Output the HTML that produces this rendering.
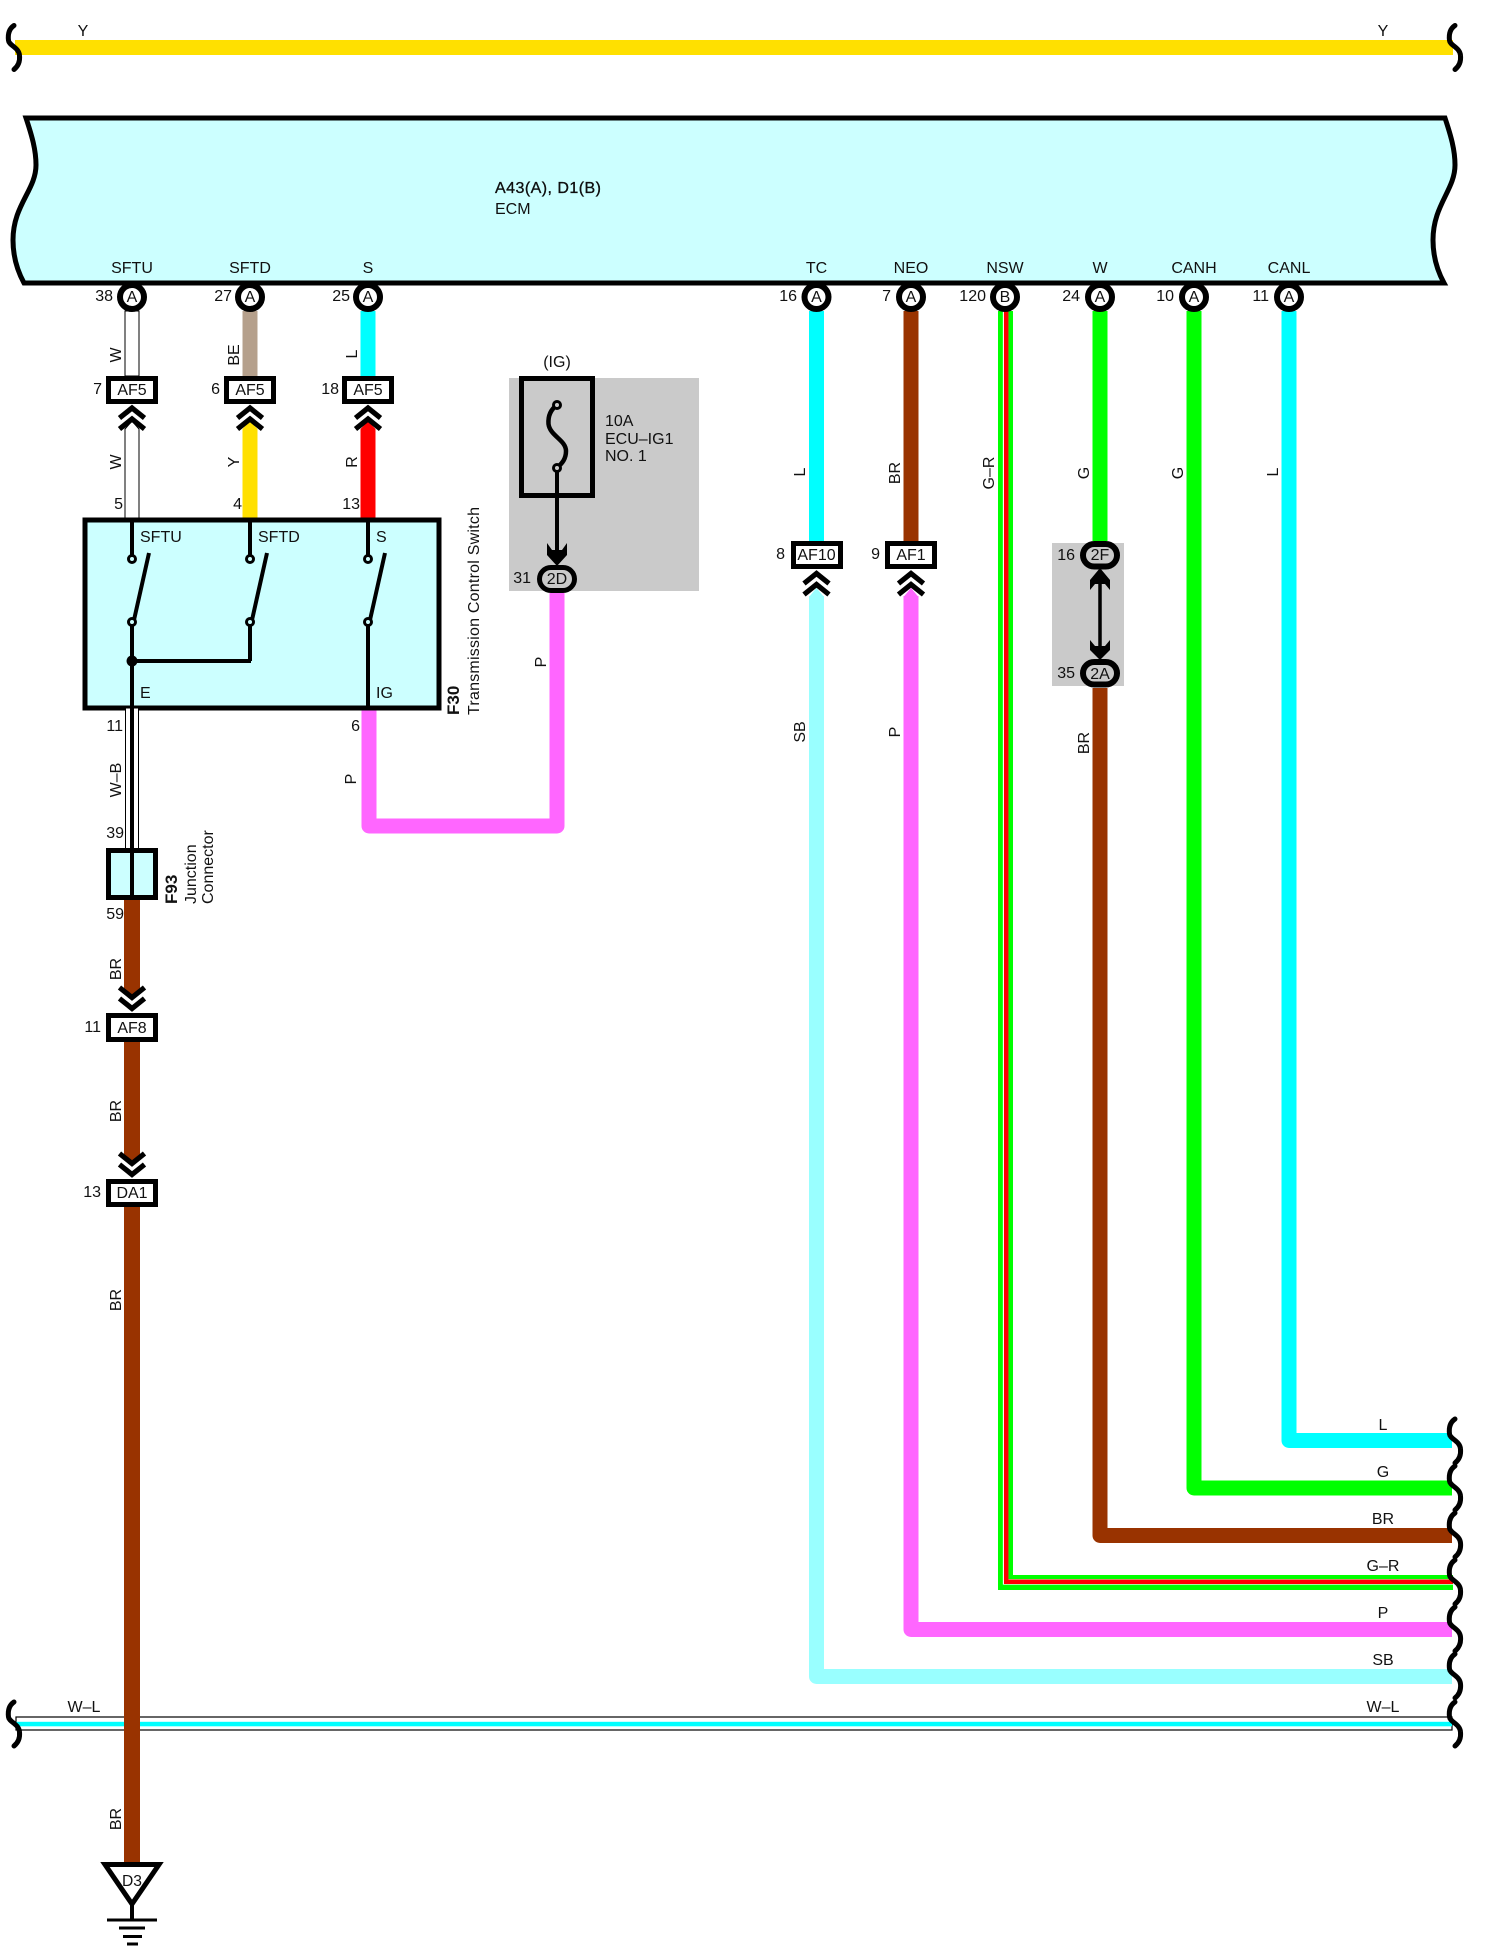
<!DOCTYPE html>
<html><head><meta charset="utf-8">
<style>
html,body{margin:0;padding:0;background:#fff}
svg{display:block}
text{font-family:"Liberation Sans",sans-serif;font-size:16px;fill:#111}
.m{text-anchor:middle}
.e{text-anchor:end}
.w{fill:none;stroke-linejoin:round}
</style></head><body>
<svg width="1500" height="1959" viewBox="0 0 1500 1959" xmlns="http://www.w3.org/2000/svg">
<defs>
<path id="sq" d="M0 -22C-6 -18 -6 -11 -5.5 -7C-5 -2 5 0 5.5 8C6 13 5 18 0 22" fill="none" stroke="#000" stroke-width="5" stroke-linecap="round"/>
<g id="cu"><polyline points="-12.500,10 0,0 12.500,10" fill="none" stroke="#000" stroke-width="5.200"/><polyline points="-12.500,21 0,11 12.500,21" fill="none" stroke="#000" stroke-width="5.200"/></g>
<g id="cd"><polyline points="-12.500,-10 0,0 12.500,-10" fill="none" stroke="#000" stroke-width="5.200"/><polyline points="-12.500,-21 0,-11 12.500,-21" fill="none" stroke="#000" stroke-width="5.200"/></g>
</defs>

<!-- top Y wire -->
<line x1="15" y1="47.5" x2="1453" y2="47.5" stroke="#ffe000" stroke-width="15"/>
<use href="#sq" x="14" y="47.5"/><use href="#sq" x="1455" y="47.5"/>
<text class="m" x="83" y="36">Y</text><text class="m" x="1383" y="36">Y</text>

<!-- ECM -->
<path d="M26 118C32 136 36 150 36 165C36 190 13 205 13 240C13 258 18 272 24 283L1444 283C1438 272 1433 258 1433 240C1433 205 1455 190 1455 165C1455 150 1451 136 1445 118Z" fill="#ccffff" stroke="#000" stroke-width="5" stroke-linejoin="miter"/>
<text x="495" y="193" stroke="#000" stroke-width=".3" textLength="106">A43(A), D1(B)</text>
<text x="495" y="214">ECM</text>
<text class="m" x="132" y="273">SFTU</text><text class="m" x="250" y="273">SFTD</text><text class="m" x="368" y="273">S</text>
<text class="m" x="816.500" y="273">TC</text><text class="m" x="911" y="273">NEO</text><text class="m" x="1005" y="273">NSW</text><text class="m" x="1100" y="273">W</text><text class="m" x="1194" y="273">CANH</text><text class="m" x="1289" y="273">CANL</text>

<!-- grey areas -->
<rect x="509" y="378" width="190" height="213" fill="#cacaca"/>
<rect x="1052" y="543" width="72" height="143" fill="#cacaca"/>

<!-- wires: left group upper -->
<rect x="125" y="311" width="14" height="65" fill="#fff" stroke="#000" stroke-width="1"/>
<line x1="250" y1="311" x2="250" y2="376" stroke="#b5a08c" stroke-width="15"/>
<line x1="368" y1="311" x2="368" y2="376" stroke="#00ffff" stroke-width="15"/>
<path d="M125 429L132 421L139 429V520H125Z" fill="#fff" stroke="#000" stroke-width="1"/>
<path d="M242.500 429L250 421L257.500 429V520H242.500Z" fill="#ffe000"/>
<path d="M360.500 429L368 421L375.500 429V520H360.500Z" fill="#ff0000"/>

<!-- P wire loop -->
<path class="w" d="M369 708V826H557V593" stroke="#ff66ff" stroke-width="15"/>

<!-- switch box -->
<rect x="85" y="520" width="354" height="188" fill="#ccffff" stroke="#000" stroke-width="5"/>
<g fill="none" stroke="#000" stroke-width="4">
<line x1="132" y1="520" x2="132" y2="555"/><line x1="250" y1="520" x2="250" y2="555"/><line x1="368" y1="520" x2="368" y2="555"/>
<line x1="132" y1="626" x2="132" y2="708"/><line x1="250" y1="626" x2="250" y2="661"/><line x1="368" y1="626" x2="368" y2="708"/>
<line x1="132" y1="661" x2="251" y2="661"/>
<line x1="149" y1="553" x2="134" y2="620"/><line x1="267" y1="553" x2="252" y2="620"/><line x1="385" y1="553" x2="370" y2="620"/>
</g>
<g fill="#ccffff" stroke="#000" stroke-width="3">
<circle cx="132" cy="559" r="3.500"/><circle cx="250" cy="559" r="3.500"/><circle cx="368" cy="559" r="3.500"/>
<circle cx="132" cy="622" r="3.500"/><circle cx="250" cy="622" r="3.500"/><circle cx="368" cy="622" r="3.500"/>
</g>
<circle cx="132" cy="661" r="5.500" fill="#000"/>
<text x="140" y="542">SFTU</text><text x="258" y="542">SFTD</text><text x="376" y="542">S</text>
<text x="140" y="698">E</text><text x="376" y="698">IG</text>

<!-- W-B wire + F93 -->
<rect x="125.500" y="708" width="13" height="142" fill="#fff" stroke="#000" stroke-width="1"/>
<line x1="132" y1="708" x2="132" y2="850" stroke="#000" stroke-width="4"/>
<rect x="108.500" y="850.500" width="47" height="47" fill="#ccffff" stroke="#000" stroke-width="5"/>
<line x1="132" y1="850" x2="132" y2="898" stroke="#000" stroke-width="4"/>

<!-- brown main -->
<path d="M124 900H140V990L132 996L124 990Z" fill="#993300"/>
<path d="M124 1042H140V1156L132 1162L124 1156Z" fill="#993300"/>

<!-- W-L wire -->
<rect x="16" y="1717" width="1436" height="13" fill="#fff" stroke="#000" stroke-width="1.200"/>
<rect x="16" y="1721.800" width="1436" height="4.500" fill="#00ffff"/>
<rect x="124" y="1207" width="16" height="656" fill="#993300"/>
<use href="#sq" x="14" y="1724"/><use href="#sq" x="1455" y="1724"/>
<text class="m" x="84" y="1712">W–L</text><text class="m" x="1383" y="1712">W–L</text>

<!-- right group wires -->
<line x1="816.500" y1="311" x2="816.500" y2="541" stroke="#00ffff" stroke-width="15"/>
<line x1="911" y1="311" x2="911" y2="541" stroke="#993300" stroke-width="15"/>
<line x1="1100" y1="311" x2="1100" y2="541" stroke="#00ff00" stroke-width="15"/>
<path class="w" d="M816.500 596V1676.500H1452" stroke="#99ffff" stroke-width="15"/>
<path d="M809 597L816.500 588L824 597Z" fill="#99ffff"/>
<path class="w" d="M911 596V1629.500H1452" stroke="#ff66ff" stroke-width="15"/>
<path d="M903.500 597L911 588L918.500 597Z" fill="#ff66ff"/>
<path class="w" d="M1100 688V1535.500H1452" stroke="#993300" stroke-width="15"/>
<path class="w" d="M1194 311V1488H1452" stroke="#00ff00" stroke-width="15"/>
<path class="w" d="M1289 311V1440.500H1452" stroke="#00ffff" stroke-width="15"/>
<path d="M1005.500 311V1582.500H1453" fill="none" stroke="#00ff00" stroke-width="15" stroke-linejoin="miter"/>
<path d="M1005.600 311V1581.900H1453" fill="none" stroke="#fff" stroke-width="5.500" stroke-linejoin="miter"/>
<path d="M1006.200 311V1581.700H1453" fill="none" stroke="#ff0000" stroke-width="4.500" stroke-linejoin="miter"/>

<!-- right squiggles -->
<use href="#sq" x="1455" y="1441"/><use href="#sq" x="1455" y="1488"/><use href="#sq" x="1455" y="1535"/><use href="#sq" x="1455" y="1582"/><use href="#sq" x="1455" y="1629"/><use href="#sq" x="1455" y="1676"/>
<text class="m" x="1383" y="1430">L</text><text class="m" x="1383" y="1477">G</text><text class="m" x="1383" y="1524">BR</text><text class="m" x="1383" y="1571">G–R</text><text class="m" x="1383" y="1618">P</text><text class="m" x="1383" y="1665">SB</text>

<!-- pin circles -->
<g fill="#fff" stroke="#000" stroke-width="6">
<circle cx="132" cy="297" r="12"/><circle cx="250" cy="297" r="12"/><circle cx="368" cy="297" r="12"/>
<circle cx="816.500" cy="297" r="12"/><circle cx="911" cy="297" r="12"/><circle cx="1005" cy="297" r="12"/><circle cx="1100" cy="297" r="12"/><circle cx="1194" cy="297" r="12"/><circle cx="1289" cy="297" r="12"/>
</g>
<text class="m" x="132" y="302">A</text><text class="m" x="250" y="302">A</text><text class="m" x="368" y="302">A</text>
<text class="m" x="816.500" y="302">A</text><text class="m" x="911" y="302">A</text><text class="m" x="1005" y="302">B</text><text class="m" x="1100" y="302">A</text><text class="m" x="1194" y="302">A</text><text class="m" x="1289" y="302">A</text>
<text class="e" x="113" y="301">38</text><text class="e" x="232" y="301">27</text><text class="e" x="350" y="301">25</text>
<text class="e" x="797" y="301">16</text><text class="e" x="891" y="301">7</text><text class="e" x="986" y="301">120</text><text class="e" x="1080" y="301">24</text><text class="e" x="1174" y="301">10</text><text class="e" x="1269" y="301">11</text>

<!-- connectors -->
<g fill="#fff" stroke="#000" stroke-width="5">
<rect x="108.500" y="378.500" width="47" height="23"/><rect x="226.500" y="378.500" width="47" height="23"/><rect x="344.500" y="378.500" width="47" height="23"/>
<rect x="793.500" y="543.500" width="47" height="23"/><rect x="887.500" y="543.500" width="47" height="23"/>
<rect x="108.500" y="1015.500" width="47" height="24"/><rect x="108.500" y="1181.500" width="47" height="23"/>
</g>
<text class="m" x="132" y="395">AF5</text><text class="m" x="250" y="395">AF5</text><text class="m" x="368" y="395">AF5</text>
<text class="m" x="816.500" y="560">AF10</text><text class="m" x="911" y="560">AF1</text>
<text class="m" x="132" y="1033">AF8</text><text class="m" x="132" y="1198">DA1</text>
<use href="#cu" x="132" y="408"/><use href="#cu" x="250" y="408"/><use href="#cu" x="368" y="408"/>
<use href="#cu" x="816.500" y="573.500"/><use href="#cu" x="911" y="573.500"/>
<use href="#cd" x="132" y="1008.500"/><use href="#cd" x="132" y="1174.500"/>

<text class="e" x="102" y="394">7</text><text class="e" x="220" y="394">6</text><text class="e" x="339" y="394">18</text>
<text class="e" x="123" y="509">5</text><text class="e" x="242" y="509">4</text><text class="e" x="360" y="509">13</text>
<text class="e" x="123" y="731">11</text><text class="e" x="360" y="731">6</text><text class="e" x="124" y="838">39</text><text class="e" x="124" y="919">59</text>
<text class="e" x="101" y="1032">11</text><text class="e" x="101" y="1197">13</text>
<text class="e" x="785" y="559">8</text><text class="e" x="880" y="559">9</text>

<!-- fuse block -->
<text class="m" x="557" y="367">(IG)</text>
<rect x="521.500" y="378.500" width="71" height="117" fill="none" stroke="#000" stroke-width="5"/>
<path d="M557 405C550 410 548 417 548.500 424C550 436 566 440 566 451C566 460 561 464 557 468" fill="none" stroke="#000" stroke-width="4.500"/>
<circle cx="557" cy="405" r="3.500" fill="#cacaca" stroke="#000" stroke-width="3"/>
<circle cx="557" cy="468" r="3.500" fill="#cacaca" stroke="#000" stroke-width="3"/>
<line x1="557" y1="472" x2="557" y2="555" stroke="#000" stroke-width="4"/>
<polygon points="547,543 552,550 562,550 567,543 567,555 557,566 547,555" fill="#000"/>
<rect x="539.500" y="567.500" width="35" height="23" rx="11.500" fill="#cacaca" stroke="#000" stroke-width="5"/>
<text class="m" x="557" y="584">2D</text>
<text class="e" x="531" y="583">31</text>
<text x="605" y="426">10A</text><text x="605" y="444">ECU–IG1</text><text x="605" y="461">NO. 1</text>

<!-- 2F / 2A -->
<line x1="1100" y1="575" x2="1100" y2="650" stroke="#000" stroke-width="3.500"/>
<polygon points="1100,568 1090,580 1090,590 1095,584 1105,584 1110,590 1110,580" fill="#000"/>
<polygon points="1100,660 1090,650 1090,640 1095,646 1105,646 1110,640 1110,650" fill="#000"/>
<rect x="1083" y="544" width="34" height="22.500" rx="11.250" fill="#cacaca" stroke="#000" stroke-width="6"/>
<rect x="1083" y="662" width="34" height="22.500" rx="11.250" fill="#cacaca" stroke="#000" stroke-width="6"/>
<text class="m" x="1100" y="560">2F</text><text class="m" x="1100" y="679">2A</text>
<text class="e" x="1075" y="560">16</text><text class="e" x="1075" y="678">35</text>

<!-- ground -->
<path d="M105 1864.500H159L132 1904Z" fill="#fff" stroke="#000" stroke-width="5" stroke-linejoin="miter"/>
<text class="m" x="132" y="1886" textLength="20" lengthAdjust="spacingAndGlyphs">D3</text>
<line x1="132" y1="1904" x2="132" y2="1920" stroke="#000" stroke-width="4"/>
<g stroke="#000" stroke-width="3">
<line x1="107" y1="1920" x2="157" y2="1920"/><line x1="119" y1="1928" x2="145" y2="1928"/><line x1="123" y1="1936.500" x2="142" y2="1936.500"/><line x1="127" y1="1944" x2="138" y2="1944"/>
</g>

<!-- rotated labels -->
<text class="m" transform="translate(121,355) rotate(-90)">W</text>
<text class="m" transform="translate(121,462) rotate(-90)">W</text>
<text class="m" transform="translate(239,355) rotate(-90)">BE</text>
<text class="m" transform="translate(239,462) rotate(-90)">Y</text>
<text class="m" transform="translate(357,354) rotate(-90)">L</text>
<text class="m" transform="translate(357,462) rotate(-90)">R</text>
<text class="m" transform="translate(121,780) rotate(-90)">W–B</text>
<text class="m" transform="translate(356,779) rotate(-90)">P</text>
<text class="m" transform="translate(546,662) rotate(-90)">P</text>
<text class="m" transform="translate(121,969) rotate(-90)">BR</text>
<text class="m" transform="translate(121,1111) rotate(-90)">BR</text>
<text class="m" transform="translate(121,1300) rotate(-90)">BR</text>
<text class="m" transform="translate(121,1819) rotate(-90)">BR</text>
<text class="m" transform="translate(805,472) rotate(-90)">L</text>
<text class="m" transform="translate(805,732) rotate(-90)">SB</text>
<text class="m" transform="translate(900,473) rotate(-90)">BR</text>
<text class="m" transform="translate(900,732) rotate(-90)">P</text>
<text class="m" transform="translate(994,473) rotate(-90)">G–R</text>
<text class="m" transform="translate(1089,473) rotate(-90)">G</text>
<text class="m" transform="translate(1089,743) rotate(-90)">BR</text>
<text class="m" transform="translate(1183,473) rotate(-90)">G</text>
<text class="m" transform="translate(1278,472) rotate(-90)">L</text>
<text transform="translate(459,715) rotate(-90)" style="font-weight:bold;font-size:17px">F30</text>
<text transform="translate(479,715) rotate(-90)" textLength="208">Transmission Control Switch</text>
<text transform="translate(177,904) rotate(-90)" style="font-weight:bold;font-size:17px">F93</text>
<text transform="translate(196,904) rotate(-90)">Junction</text>
<text transform="translate(213,904) rotate(-90)">Connector</text>
</svg>
</body></html>
